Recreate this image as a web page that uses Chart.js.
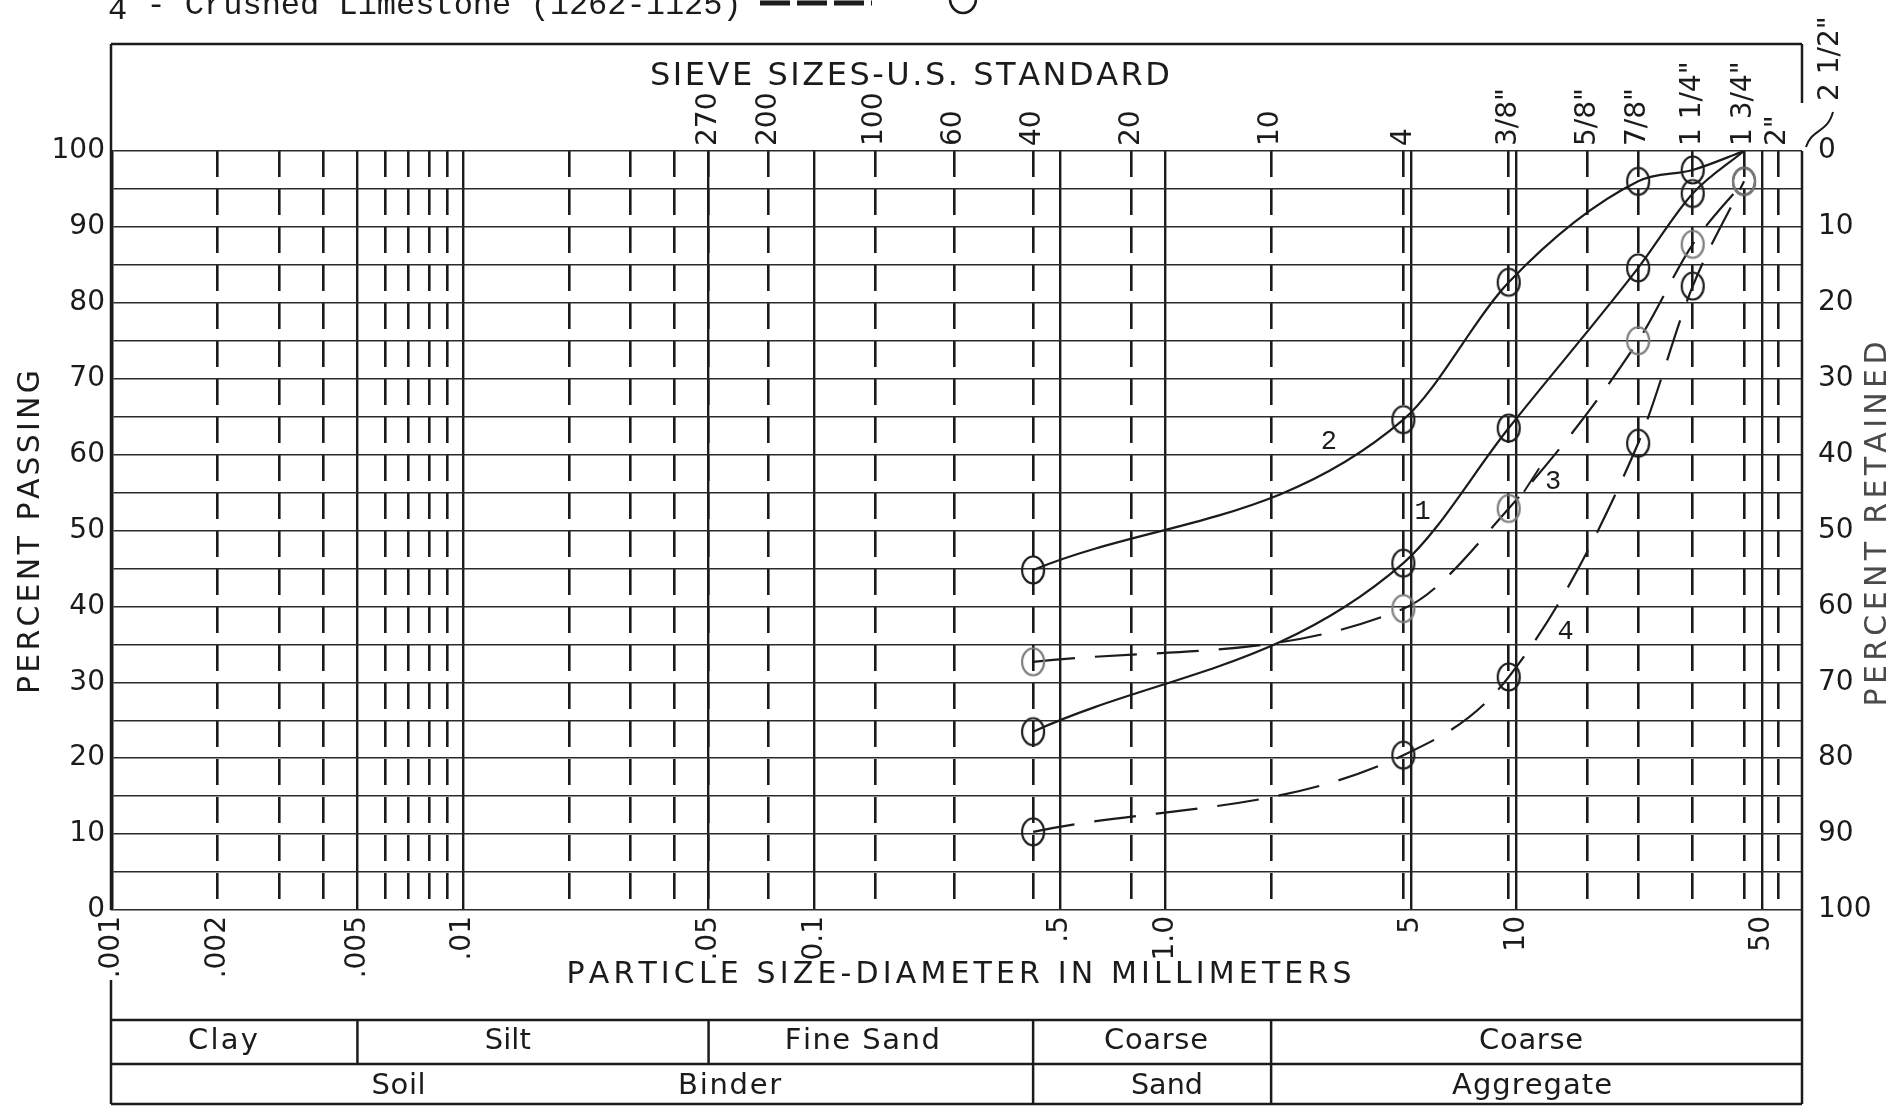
<!DOCTYPE html>
<html>
<head>
<meta charset="utf-8">
<title>Grading curves</title>
<script src="https://cdn.jsdelivr.net/npm/chart.js@4.4.1/dist/chart.umd.min.js"></script>
<style>
  html, body { margin: 0; padding: 0; background: #fff; }
  #wrap { width: 1898px; height: 1110px; position: relative; }
</style>
</head>
<body>
<div id="wrap"><canvas id="grading"></canvas></div>
<script>
// sieve openings (mm) the four samples were graded on
const pointSizes = [0.42, 4.76, 9.5, 22.2, 31.75, 44.45];

// percent passing
const mix1 = [23.5, 45.7, 63.5, 84.6, 94.4, 100];
const mix2 = [44.8, 64.6, 82.7, 96.0, 97.5, 100];
const mix3 = [32.7, 39.7, 52.9, 75.0, 87.7, 96.0];
const mix4 = [10.3, 20.4, 30.7, 61.5, 82.2, 96.0];

// particle size axis (bottom)
const mmValues = [0.001, 0.002, 0.005, 0.01, 0.05, 0.1, 0.5, 1, 5, 10, 50];
const mmLabels = ['.001', '.002', '.005', '.01', '.05', '0.1', '.5', '1.0', '5', '10', '50'];
const solidLines = [0.005, 0.01, 0.05, 0.1, 0.5, 1, 5, 10, 50];
const minorLines = [0.002, 0.003, 0.004, 0.006, 0.007, 0.008, 0.009, 0.02, 0.03, 0.04];

// U.S. standard sieves (top)
const sieveNames = ['270', '200', '100', '60', '40', '20', '10', '4', '3/8"', '5/8"', '7/8"', '1 1/4"', '1 3/4"', '2"'];
const sieveSizes = [0.05, 0.074, 0.149, 0.25, 0.42, 0.8, 2.0, 4.76, 9.5, 15.9, 22.2, 31.75, 44.45, 55.6];

// soil classification strip under the chart
const zoneBreaks = [0.005, 0.05, 0.42, 2.0];
const zoneRow1 = [
  {text: 'Clay', mm: 0.00207, w: 70},
  {text: 'Silt', mm: 0.0134, w: 46},
  {text: 'Fine Sand', mm: 0.137, w: 155},
  {text: 'Coarse', mm: 0.94, w: 104},
  {text: 'Coarse', mm: 11.0, w: 104}
];
const zoneRow2 = [
  {text: 'Soil', mm: 0.00655, w: 54},
  {text: 'Binder', mm: 0.0574, w: 103},
  {text: 'Sand', mm: 1.01, w: 72},
  {text: 'Aggregate', mm: 11.07, w: 160}
];

// curve numbers written next to the lines
const curveTags = [
  {text: '1', mm: 5.4, pct: 52.4},
  {text: '2', mm: 2.92, pct: 61.7},
  {text: '3', mm: 12.7, pct: 56.4},
  {text: '4', mm: 13.8, pct: 36.6}
];

const INK = '#1b1b1b';
const FRAME_TOP = 44;
const TABLE_TOP = 1020;
const TABLE_MID = 1064;
const TABLE_BOTTOM = 1104;

Chart.defaults.font.family = 'DejaVu Sans';
Chart.defaults.color = INK;

function makeRing(color) {
    // slightly tall open circle, like the hand drawn markers
    const c = document.createElement('canvas');
    c.width = 28;
    c.height = 32;
    const g = c.getContext('2d');
    g.strokeStyle = color;
    g.lineWidth = 2.2;
    g.beginPath();
    g.ellipse(14, 16, 11, 13.5, 0, 0, Math.PI * 2);
    g.stroke();
    return c;
}

function curve(label, values, dashed, ring, ringAtEnd) {
    const last = values.length - 1;
    return {
        label: label,
        data: pointSizes.map((mm, i) => ({x: mm, y: values[i]})),
        xAxisID: 'x',
        yAxisID: 'y',
        borderColor: INK,
        borderWidth: 2.2,
        borderDash: dashed ? [42, 20] : [],
        fill: false,
        tension: 0.4,
        cubicInterpolationMode: 'monotone',
        pointStyle: ring,
        pointRadius: values.map((v, i) => (i === last && !ringAtEnd) ? 0 : 12),
        pointHoverRadius: 0
    };
}

function line(ctx, x1, y1, x2, y2) {
    ctx.beginPath();
    ctx.moveTo(x1, y1);
    ctx.lineTo(x2, y2);
    ctx.stroke();
}

// letter-spaced text centred on x, spread (or squeezed) to a given width
function spacedText(ctx, text, x, y, width) {
    const chars = Array.from(text);
    const widths = chars.map(ch => ctx.measureText(ch).width);
    const natural = widths.reduce((a, b) => a + b, 0);
    let gap = (width - natural) / Math.max(chars.length - 1, 1);
    ctx.save();
    ctx.translate(x - width / 2, y);
    if (gap < 0) {
        ctx.scale(width / natural, 1);
        gap = 0;
    }
    ctx.textAlign = 'left';
    let cx = 0;
    chars.forEach((ch, i) => {
        ctx.fillText(ch, cx, 0);
        cx += widths[i] + gap;
    });
    ctx.restore();
}

function upText(ctx, text, x, y, width) {
    ctx.save();
    ctx.translate(x, y);
    ctx.rotate(-Math.PI / 2);
    spacedText(ctx, text, 0, 0, width);
    ctx.restore();
}

const paperPlugin = {
    id: 'paper',
    afterDraw(chart) {
        const ctx = chart.ctx;
        const xs = chart.scales.x;
        const xd = chart.scales.xd;
        const ys = chart.scales.y;
        const area = chart.chartArea;
        const L = area.left - 1;
        const R = area.right;

        ctx.save();
        ctx.fillStyle = INK;
        ctx.strokeStyle = INK;

        // typed legend line, cut off by the top of the scan
        ctx.font = '32px "Liberation Mono"';
        ctx.textAlign = 'left';
        ctx.textBaseline = 'alphabetic';
        ctx.fillText('4', 108, 19);
        ctx.fillText('  - Crushed Limestone (1262-1125)', 108, 14);
        ctx.lineWidth = 5;
        ctx.setLineDash([30, 7]);
        line(ctx, 760, 3, 872, 3);
        ctx.setLineDash([]);
        ctx.lineWidth = 2.5;
        ctx.beginPath();
        ctx.ellipse(963, -1, 13, 14, 0, 0, Math.PI * 2);
        ctx.stroke();

        // outer frame
        ctx.lineWidth = 2.5;
        line(ctx, L, FRAME_TOP, R, FRAME_TOP);
        line(ctx, L, FRAME_TOP, L, area.bottom);
        line(ctx, L, 980, L, TABLE_BOTTOM);
        line(ctx, R, FRAME_TOP, R, 103);
        line(ctx, R, area.top, R, TABLE_BOTTOM);

        // classification strip
        line(ctx, L, TABLE_TOP, R, TABLE_TOP);
        line(ctx, L, TABLE_MID, R, TABLE_MID);
        line(ctx, L, TABLE_BOTTOM, R, TABLE_BOTTOM);
        zoneBreaks.forEach(mm => {
            const px = xs.getPixelForValue(mm);
            line(ctx, px, TABLE_TOP, px, TABLE_MID);
        });
        zoneBreaks.slice(2).forEach(mm => {
            const px = xs.getPixelForValue(mm);
            line(ctx, px, TABLE_MID, px, TABLE_BOTTOM);
        });
        ctx.textBaseline = 'middle';
        ctx.font = '29px "DejaVu Sans"';
        zoneRow1.forEach(z => spacedText(ctx, z.text, xs.getPixelForValue(z.mm), 1041, z.w));
        zoneRow2.forEach(z => spacedText(ctx, z.text, xs.getPixelForValue(z.mm), 1086, z.w));

        // titles
        ctx.font = '32px "DejaVu Sans"';
        spacedText(ctx, 'SIEVE SIZES-U.S. STANDARD', 910, 77, 520);
        ctx.font = '30px "DejaVu Sans"';
        spacedText(ctx, 'PARTICLE SIZE-DIAMETER IN MILLIMETERS', 959, 975, 785);
        upText(ctx, 'PERCENT PASSING', 31, 532, 324);
        ctx.fillStyle = '#4a4a4a';
        upText(ctx, 'PERCENT RETAINED', 1878, 524, 365);
        ctx.fillStyle = INK;

        // sieve numbers above the grid
        ctx.font = '28px "DejaVu Sans"';
        ctx.textAlign = 'left';
        sieveNames.forEach((name, i) => {
            const px = xd.getPixelForValue(sieveSizes[i]);
            ctx.save();
            ctx.translate(px, 146);
            ctx.rotate(-Math.PI / 2);
            ctx.fillText(name, 0, 0);
            ctx.restore();
        });
        // 2 1/2" sieve sits on the frame, labelled with a leader
        ctx.save();
        ctx.translate(1831, 101);
        ctx.rotate(-Math.PI / 2);
        ctx.fillText('2 1/2"', 0, 0);
        ctx.restore();
        ctx.lineWidth = 2;
        ctx.beginPath();
        ctx.moveTo(1806, 147);
        ctx.bezierCurveTo(1812, 128, 1827, 134, 1833, 112);
        ctx.stroke();

        // curve numbers
        ctx.font = '27px "Liberation Mono"';
        ctx.textAlign = 'center';
        curveTags.forEach(t => {
            ctx.fillText(t.text, xs.getPixelForValue(t.mm), ys.getPixelForValue(t.pct));
        });
        ctx.lineWidth = 2;
        line(ctx, xs.getPixelForValue(10.5), ys.getPixelForValue(55.1),
            xs.getPixelForValue(11.6), ys.getPixelForValue(58.2));

        ctx.restore();
    }
};

const ringDark = makeRing('#1d1d1d');
const ringGrey = makeRing('#7d7d7d');

new Chart(document.getElementById('grading'), {
    type: 'line',
    data: {
        datasets: [
            curve('1', mix1, false, ringDark, false),
            curve('2', mix2, false, ringDark, false),
            curve('3', mix3, true, ringGrey, true),
            curve('4', mix4, true, ringDark, true)
        ]
    },
    options: {
        responsive: true,
        maintainAspectRatio: false,
        animation: false,
        devicePixelRatio: 1,
        layout: {padding: 0, autoPadding: false},
        plugins: {
            legend: {display: false},
            tooltip: {enabled: false}
        },
        scales: {
            x: {
                type: 'logarithmic',
                position: 'bottom',
                min: 0.001,
                max: 65,
                afterBuildTicks: s => { s.ticks = mmValues.map(v => ({value: v})); },
                afterFit: s => { s.height = 200; },
                grid: {
                    color: c => (c.tick && solidLines.includes(c.tick.value)) ? INK : 'rgba(0,0,0,0)',
                    lineWidth: 2.4,
                    drawTicks: false
                },
                border: {display: false},
                ticks: {
                    autoSkip: false,
                    minRotation: 90,
                    maxRotation: 90,
                    padding: 6,
                    font: {size: 28},
                    callback: (v, i) => mmLabels[i]
                }
            },
            xd: {
                type: 'logarithmic',
                position: 'top',
                min: 0.001,
                max: 65,
                afterBuildTicks: s => { s.ticks = minorLines.concat(sieveSizes).map(v => ({value: v})); },
                afterFit: s => { s.height = 151; },
                grid: {color: INK, lineWidth: 2.6, drawTicks: false},
                border: {display: false, dash: [26, 12]},
                ticks: {display: false, autoSkip: false}
            },
            y: {
                position: 'left',
                min: 0,
                max: 100,
                afterFit: s => { s.width = 112; },
                grid: {color: '#2a2a2a', lineWidth: 1.5, drawTicks: false},
                border: {color: INK, width: 2.5},
                ticks: {
                    stepSize: 5,
                    autoSkip: false,
                    padding: 7,
                    font: {size: 28},
                    callback: v => (v % 10 === 0 ? v : '')
                }
            },
            y2: {
                position: 'right',
                min: 0,
                max: 100,
                reverse: true,
                afterFit: s => { s.width = 96; },
                grid: {display: false, drawTicks: false},
                border: {display: false},
                ticks: {stepSize: 10, autoSkip: false, padding: 16, font: {size: 28}}
            }
        }
    },
    plugins: [paperPlugin]
});
</script>
</body>
</html>
